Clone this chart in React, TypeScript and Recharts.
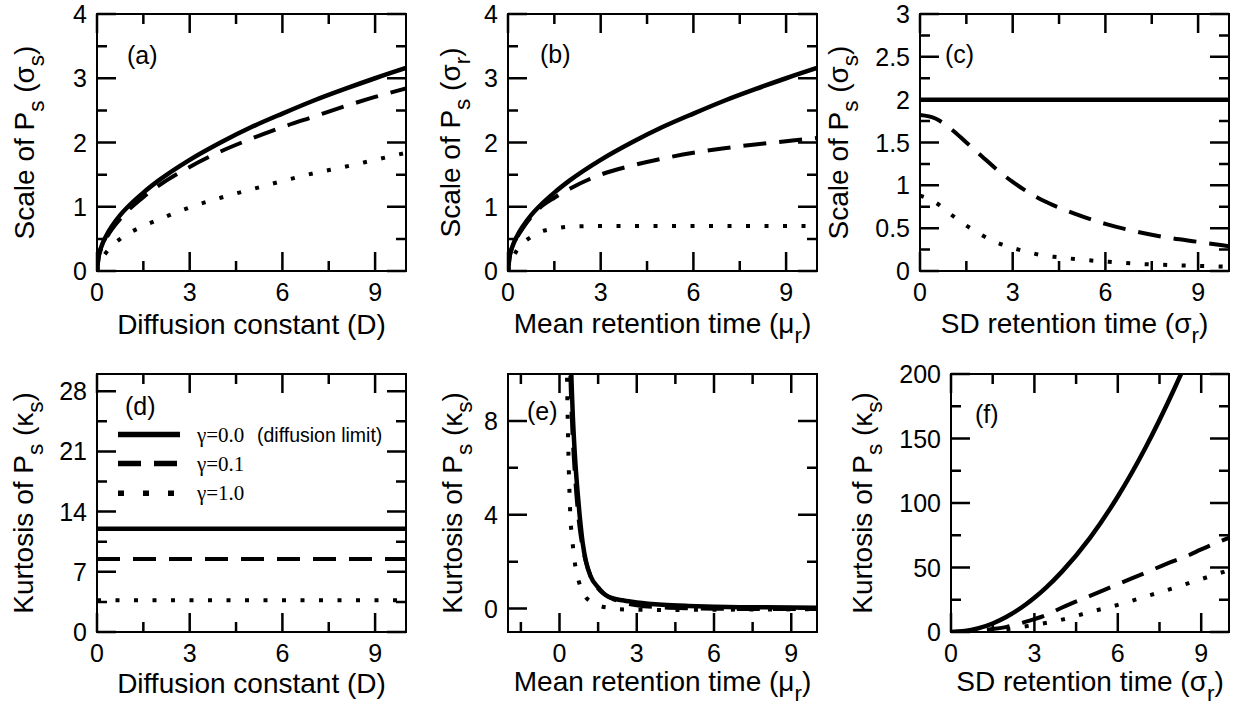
import React from "react";
import { LineChart, Line, XAxis, YAxis, Customized } from "recharts";

const SANS = '"Liberation Sans", Arial, Helvetica, sans-serif';
const SERIF = '"Liberation Serif", "Times New Roman", serif';

// legend entries (one per series, same order everywhere)
const seriesNames = ["γ=0.0", "γ=0.1", "γ=1.0"];

// (a) scale vs diffusion constant
const aX = [0, 0.05, 0.15, 0.3, 0.5, 0.75, 1, 1.5, 2, 3, 4, 5, 6, 7, 8, 9, 10];
const aSolid = [0, 0.22, 0.39, 0.55, 0.71, 0.87, 1.0, 1.22, 1.41, 1.73, 2.0, 2.24, 2.45, 2.65, 2.83, 3.0, 3.16];
const aDashed = [0, 0.2, 0.36, 0.51, 0.66, 0.81, 0.94, 1.15, 1.33, 1.62, 1.86, 2.06, 2.24, 2.4, 2.56, 2.71, 2.84];
const aDotted = [0, 0.07, 0.18, 0.29, 0.4, 0.5, 0.58, 0.7, 0.8, 0.99, 1.14, 1.27, 1.4, 1.52, 1.62, 1.73, 1.84];

// (b) scale vs mean retention time
const bX = [0, 0.05, 0.15, 0.3, 0.5, 0.75, 1, 1.5, 2, 3, 4, 5, 6, 7, 8, 9, 10];
const bSolid = [0, 0.22, 0.39, 0.55, 0.71, 0.87, 1.0, 1.22, 1.41, 1.73, 2.0, 2.24, 2.45, 2.65, 2.83, 3.0, 3.16];
const bDashed = [0, 0.21, 0.38, 0.53, 0.68, 0.84, 0.97, 1.14, 1.28, 1.5, 1.64, 1.75, 1.84, 1.91, 1.97, 2.02, 2.07];
const bDotted = [0, 0.08, 0.2, 0.33, 0.44, 0.53, 0.6, 0.66, 0.69, 0.7, 0.7, 0.7, 0.7, 0.7, 0.7, 0.7, 0.7];

// (c) scale vs SD retention time
const cX = [0, 0.5, 1, 1.5, 2, 2.5, 3, 3.5, 4, 4.5, 5, 6, 7, 8, 9, 10];
const cSolid = [2, 2, 2, 2, 2, 2, 2, 2, 2, 2, 2, 2, 2, 2, 2, 2];
const cDashed = [1.82, 1.78, 1.66, 1.5, 1.34, 1.18, 1.04, 0.92, 0.82, 0.74, 0.67, 0.55, 0.46, 0.39, 0.34, 0.29];
const cDotted = [0.88, 0.8, 0.66, 0.53, 0.42, 0.33, 0.27, 0.22, 0.18, 0.16, 0.14, 0.11, 0.085, 0.07, 0.06, 0.05];

// (d) kurtosis vs diffusion constant
const dX = [0, 10];
const dSolid = [12, 12];
const dDashed = [8.5, 8.5];
const dDotted = [3.7, 3.7];

// (e) kurtosis vs mean retention time
const eSolidX = [0.4, 0.46, 0.5, 0.6, 0.7, 0.78, 0.9, 1.03, 1.2, 1.5, 1.9, 2.5, 3, 4, 5, 6, 7, 8, 10];
const eSolid = [13.5, 10, 8.7, 6.5, 5.0, 4.0, 2.8, 2.0, 1.4, 0.9, 0.5, 0.34, 0.26, 0.16, 0.11, 0.08, 0.06, 0.05, 0.03];
const eDashedX = [0.36, 0.42, 0.5, 0.6, 0.7, 0.8, 0.9, 1.0, 1.2, 1.5, 2, 2.5, 3, 4, 5, 6, 8, 10];
const eDashed = [13, 10, 7.6, 5.7, 4.3, 3.3, 2.6, 2.1, 1.4, 0.85, 0.45, 0.25, 0.14, 0.05, 0.01, -0.01, -0.02, -0.02];
const eDottedX = [0.25, 0.29, 0.32, 0.36, 0.42, 0.5, 0.59, 0.7, 0.78, 0.9, 1.03, 1.3, 1.6, 2, 2.3, 3, 4, 6, 8, 10];
const eDotted = [13, 10, 8, 6, 4, 2.9, 2.0, 1.35, 1.05, 0.7, 0.47, 0.25, 0.1, 0.02, -0.03, -0.05, -0.06, -0.05, -0.04, -0.03];

// (f) kurtosis vs SD retention time
const fX = [0, 0.5, 1, 1.5, 2, 2.7, 3, 3.4, 4, 5, 6, 7, 8, 8.5, 9, 10];
const fSolid = [0, 0.7, 3, 6.6, 11.8, 21.5, 26.5, 34, 47, 73, 105, 143, 187, 211, 237, 292];
const fDashed = [0, 0.3, 1, 2.3, 4, 8, 10, 13, 19, 28, 37, 46, 55, 59, 64, 73];
const fDotted = [0, 0.1, 0.3, 0.9, 2.2, 4.4, 5.5, 7, 9.6, 15.5, 21, 27.5, 34, 37.5, 41, 48];

// ticks (all) and the labelled ones
const xTicks10 = [0, 1.5, 3, 4.5, 6, 7.5, 9];
const xLabels10 = [0, 3, 6, 9];
const xTicksE = [-1.5, 0, 1.5, 3, 4.5, 6, 7.5, 9];
const yTicks4 = [0, 0.5, 1, 1.5, 2, 2.5, 3, 3.5, 4];
const yLabels4 = [0, 1, 2, 3, 4];
const yTicks3 = [0, 0.25, 0.5, 0.75, 1, 1.25, 1.5, 1.75, 2, 2.25, 2.5, 2.75, 3];
const yLabels3 = [0, 0.5, 1, 1.5, 2, 2.5, 3];
const yTicks28 = [0, 3.5, 7, 10.5, 14, 17.5, 21, 24.5, 28];
const yLabels28 = [0, 7, 14, 21, 28];
const yTicksE = [0, 2, 4, 6, 8];
const yLabelsE = [0, 4, 8];
const yTicks200 = [0, 25, 50, 75, 100, 125, 150, 175, 200];
const yLabels200 = [0, 50, 100, 150, 200];

type Seg = { t: string; sub?: boolean };

const scaleS: Seg[] = [{ t: "Scale of P" }, { t: "s", sub: true }, { t: " (σ" }, { t: "s", sub: true }, { t: ")" }];
const scaleR: Seg[] = [{ t: "Scale of P" }, { t: "s", sub: true }, { t: " (σ" }, { t: "r", sub: true }, { t: ")" }];
const kurt: Seg[] = [{ t: "Kurtosis of P" }, { t: "s", sub: true }, { t: " (κ" }, { t: "s", sub: true }, { t: ")" }];
const xDiff: Seg[] = [{ t: "Diffusion constant (D)" }];
const xMean: Seg[] = [{ t: "Mean retention time (μ" }, { t: "r", sub: true }, { t: ")" }];
const xSd: Seg[] = [{ t: "SD retention time (σ" }, { t: "r", sub: true }, { t: ")" }];

const pts = (xs: number[], ys: number[]) => xs.map((x, i) => ({ x, y: ys[i] }));

const lineStyles = [
  { width: 4.5, dash: undefined as string | undefined },
  { width: 4, dash: "23 13" },
  { width: 4, dash: "4 14.5" },
];

const panels = [
  { tag: "(a)", box: [97, 14, 309, 257], xDomain: [0, 10], xTicks: xTicks10, xLabels: xLabels10, yDomain: [0, 4], yTicks: yTicks4, yLabels: yLabels4, xTitle: xDiff, yTitle: scaleS, yGap: 63, xGap: 63, tagAt: [30, 50], series: [pts(aX, aSolid), pts(aX, aDashed), pts(aX, aDotted)] },
  { tag: "(b)", box: [508, 14, 309, 257], xDomain: [0, 10], xTicks: xTicks10, xLabels: xLabels10, yDomain: [0, 4], yTicks: yTicks4, yLabels: yLabels4, xTitle: xMean, yTitle: scaleR, yGap: 48, xGap: 62, tagAt: [32, 49], series: [pts(bX, bSolid), pts(bX, bDashed), pts(bX, bDotted)] },
  { tag: "(c)", box: [920, 14, 309, 257], xDomain: [0, 10], xTicks: xTicks10, xLabels: xLabels10, yDomain: [0, 3], yTicks: yTicks3, yLabels: yLabels3, xTitle: xSd, yTitle: scaleS, yGap: 72, xGap: 62, tagAt: [25, 49], series: [pts(cX, cSolid), pts(cX, cDashed), pts(cX, cDotted)] },
  { tag: "(d)", box: [97, 374, 309, 258], xDomain: [0, 10], xTicks: xTicks10, xLabels: xLabels10, yDomain: [0, 30], yTicks: yTicks28, yLabels: yLabels28, xTitle: xDiff, yTitle: kurt, yGap: 64, xGap: 61, tagAt: [28, 41], legend: true, series: [pts(dX, dSolid), pts(dX, dDashed), pts(dX, dDotted)] },
  { tag: "(e)", box: [508, 374, 309, 258], xDomain: [-2, 10], xTicks: xTicksE, xLabels: xLabels10, yDomain: [-1, 10], yTicks: yTicksE, yLabels: yLabelsE, xTitle: xMean, yTitle: kurt, yGap: 46, xGap: 59, tagAt: [19, 46], series: [pts(eSolidX, eSolid), pts(eDashedX, eDashed), pts(eDottedX, eDotted)] },
  { tag: "(f)", box: [951, 374, 278, 258], xDomain: [0, 10], xTicks: xTicks10, xLabels: xLabels10, yDomain: [0, 200], yTicks: yTicks200, yLabels: yLabels200, xTitle: xSd, yTitle: kurt, yGap: 79, xGap: 59, tagAt: [24, 49], series: [pts(fX, fSolid), pts(fX, fDashed), pts(fX, fDotted)] },
];

const L = 110;
const T = 20;
const R = 14;
const B = 80;
const TITLE = 28;
const TICK = 25;
const MAJOR = 19;
const MINOR = 10;
const TW = 2.5; // tick thickness
const FW = 2; // frame thickness

function segSpans(segs: Seg[], size: number) {
  let down = false;
  const shift = size * 0.36;
  return segs.map((s, i) => {
    let dy: number | undefined;
    if (s.sub && !down) {
      dy = shift;
      down = true;
    } else if (!s.sub && down) {
      dy = -shift;
      down = false;
    }
    return (
      <tspan key={i} dy={dy} fontSize={s.sub ? size * 0.8 : size}>
        {s.t}
      </tspan>
    );
  });
}

const isIn = (labels: number[], v: number) => labels.some((m) => Math.abs(m - v) < 1e-6);

// x ticks: mark at the bottom edge and mirrored at the top edge (span = plot height)
function xTickRenderer(labels: number[], span: number) {
  return (props: any) => {
    const x = Number(props.x);
    const y = Number(props.y);
    const v = props.payload.value as number;
    const major = isIn(labels, v);
    const len = major ? MAJOR : MINOR;
    return (
      <g>
        <path d={`M${x},${y}V${y - len}M${x},${y - span}V${y - span + len}`} stroke="#000" strokeWidth={TW} fill="none" />
        {major && (
          <text x={x} y={y + 30} textAnchor="middle" fontSize={TICK} fontFamily={SANS} fill="#000">
            {String(v)}
          </text>
        )}
      </g>
    );
  };
}

// y ticks: mark at the left edge and mirrored at the right edge (span = plot width)
function yTickRenderer(labels: number[], span: number) {
  return (props: any) => {
    const x = Number(props.x);
    const y = Number(props.y);
    const v = props.payload.value as number;
    const major = isIn(labels, v);
    const len = major ? MAJOR : MINOR;
    return (
      <g>
        <path d={`M${x},${y}H${x + len}M${x + span},${y}H${x + span - len}`} stroke="#000" strokeWidth={TW} fill="none" />
        {major && (
          <text x={x - 10} y={y} dy="0.36em" textAnchor="end" fontSize={TICK} fontFamily={SANS} fill="#000">
            {String(v)}
          </text>
        )}
      </g>
    );
  };
}

function Legend() {
  const x0 = L + 21;
  const rows = [60.5, 89.5, 119.3];
  const legendDash = [undefined, "23 13", "6 19"];
  return (
    <g>
      {seriesNames.map((name, i) => (
        <g key={name}>
          <line x1={x0} x2={x0 + 62} y1={T + rows[i]} y2={T + rows[i]} stroke="#000" strokeWidth={5.5} strokeDasharray={legendDash[i]} />
          <text x={L + 100} y={T + rows[i] + 7} fontSize={21} fontFamily={SERIF} fill="#000">
            {name}
          </text>
        </g>
      ))}
      <text x={L + 160} y={T + rows[0] + 7} fontSize={19.5} fontFamily={SANS} fill="#000">
        (diffusion limit)
      </text>
    </g>
  );
}

function Panel({ p }: { p: (typeof panels)[number] }) {
  const [left, top, w, h] = p.box;
  const common = {
    type: "number" as const,
    allowDataOverflow: true,
    interval: 0 as const,
    tickSize: 0,
    tickMargin: 0,
    tickLine: false,
    axisLine: false,
  };
  const Texts = () => (
    <g fontFamily={SANS} fill="#000">
      <text x={L + p.tagAt[0]} y={T + p.tagAt[1]} fontSize={25}>
        {p.tag}
      </text>
      <text x={L + w / 2} y={T + h + p.xGap} textAnchor="middle" fontSize={TITLE}>
        {segSpans(p.xTitle, TITLE)}
      </text>
      <text
        x={L - p.yGap}
        y={T + h / 2}
        textAnchor="middle"
        fontSize={TITLE}
        transform={`rotate(-90, ${L - p.yGap}, ${T + h / 2})`}
      >
        {segSpans(p.yTitle, TITLE)}
      </text>
      {p.legend ? <Legend /> : null}
    </g>
  );
  return (
    <div style={{ position: "absolute", left: left - L, top: top - T }}>
      <LineChart width={L + w + R} height={T + h + B} margin={{ top: T, right: R, bottom: 0, left: 0 }}>
        <XAxis xAxisId="b" dataKey="x" domain={p.xDomain} ticks={p.xTicks} height={B} tick={xTickRenderer(p.xLabels, h)} {...common} />
        <YAxis yAxisId="l" domain={p.yDomain} ticks={p.yTicks} width={L} tick={yTickRenderer(p.yLabels, w)} {...common} />
        {p.series.map((data, i) => (
          <Line
            key={i}
            xAxisId="b"
            yAxisId="l"
            data={data}
            dataKey="y"
            name={seriesNames[i]}
            type="monotone"
            stroke="#000"
            strokeWidth={lineStyles[i].width}
            strokeDasharray={lineStyles[i].dash}
            dot={false}
            activeDot={false}
            isAnimationActive={false}
          />
        ))}
        <Customized component={Texts} />
      </LineChart>
      {/* plot frame */}
      <div
        style={{
          position: "absolute",
          left: L - FW / 2,
          top: T - FW / 2,
          width: w - FW,
          height: h - FW,
          border: `${FW}px solid #000`,
          pointerEvents: "none",
        }}
      />
    </div>
  );
}

export default function App() {
  return (
    <div style={{ position: "absolute", left: 0, top: 0, width: 1239, height: 709, background: "#fff" }}>
      {panels.map((p) => (
        <Panel key={p.tag} p={p} />
      ))}
    </div>
  );
}
